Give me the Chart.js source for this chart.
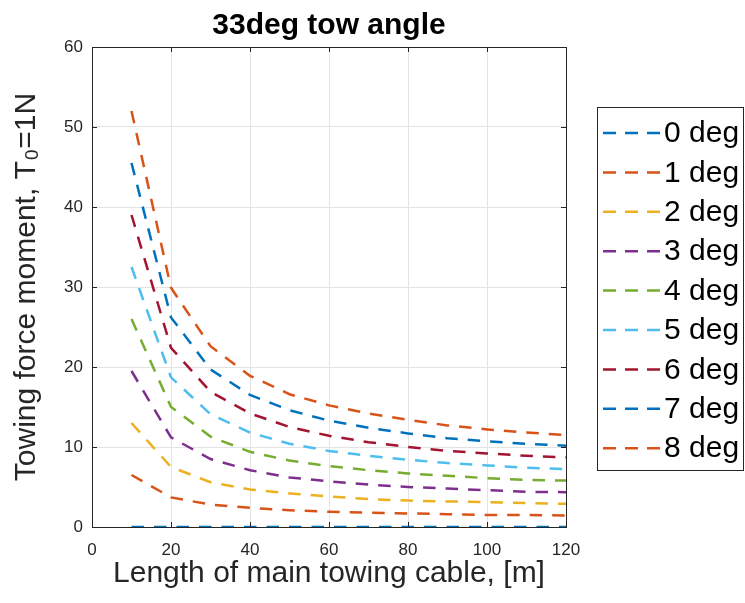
<!DOCTYPE html>
<html lang="en">
<head>
    <meta charset="UTF-8">
    <title>33deg tow angle</title>
    <script src="https://cdn.jsdelivr.net/npm/chart.js@4.4.1/dist/chart.umd.min.js"></script>
    <style>
        body { margin: 0; background: #fff; }
        #towChart { display: block; }
    </style>
</head>
<body>
  <canvas id="towChart" width="745" height="603"></canvas>

  <script>
    // cable length [m]
    var cableLength = [10, 20, 30, 40, 50, 60, 70, 80, 90, 100, 110, 120];

    // towing force moment for each angle, T0 = 1N
    var deg0 = [0, 0, 0, 0, 0, 0, 0, 0, 0, 0, 0, 0];
    var deg1 = [6.5, 3.7, 2.8, 2.4, 2.1, 1.9, 1.8, 1.7, 1.6, 1.5, 1.5, 1.45];
    var deg2 = [13.0, 7.5, 5.6, 4.7, 4.2, 3.8, 3.5, 3.3, 3.2, 3.1, 3.0, 2.9];
    var deg3 = [19.5, 11.2, 8.5, 7.1, 6.2, 5.7, 5.3, 5.0, 4.8, 4.6, 4.4, 4.35];
    var deg4 = [26.0, 15.0, 11.3, 9.4, 8.3, 7.6, 7.1, 6.7, 6.4, 6.1, 5.9, 5.8];
    var deg5 = [32.5, 18.7, 14.1, 11.8, 10.4, 9.5, 8.9, 8.4, 8.0, 7.7, 7.4, 7.25];
    var deg6 = [39.0, 22.4, 16.9, 14.2, 12.5, 11.4, 10.6, 10.0, 9.5, 9.2, 8.9, 8.7];
    var deg7 = [45.5, 26.2, 19.7, 16.5, 14.6, 13.3, 12.4, 11.7, 11.1, 10.7, 10.4, 10.15];
    var deg8 = [52.0, 29.9, 22.6, 18.9, 16.6, 15.2, 14.2, 13.4, 12.7, 12.2, 11.8, 11.5];

    var seriesNames = ["0 deg", "1 deg", "2 deg", "3 deg", "4 deg", "5 deg", "6 deg", "7 deg", "8 deg"];
    var seriesValues = [deg0, deg1, deg2, deg3, deg4, deg5, deg6, deg7, deg8];

    var xTicks = [0, 20, 40, 60, 80, 100, 120];
    var yTicks = [0, 10, 20, 30, 40, 50, 60];

    // matlab default line colours
    var lineColors = ["#0072BD", "#D95319", "#EDB120", "#7E2F8E", "#77AC30", "#4DBEEE", "#A2142F", "#0072BD", "#D95319"];

    var axisGray = "#262626";
    var fontFamily = "'Liberation Sans', Arial, sans-serif";

    function toPoints(values) {
        var pts = [];
        for (var i = 0; i < cableLength.length; i++) {
            pts.push({ x: cableLength[i], y: values[i] });
        }
        return pts;
    }

    var datasets = [];
    for (var s = 0; s < seriesValues.length; s++) {
        datasets.push({
            label: seriesNames[s],
            data: toPoints(seriesValues[s]),
            borderColor: lineColors[s],
            backgroundColor: lineColors[s],
            borderWidth: 2.5,
            borderDash: [12.5, 10],
            pointRadius: 0,
            tension: 0,
            fill: false,
            order: seriesValues.length - s
        });
    }

    // box round the axes plus inward tick marks on all four sides
    var axesBox = {
        id: "axesBox",
        afterDatasetsDraw: function (chart) {
            var ctx = chart.ctx;
            var a = chart.chartArea;
            var xs = chart.scales.x, ys = chart.scales.y;
            ctx.save();
            ctx.strokeStyle = axisGray;
            ctx.lineWidth = 1;
            ctx.strokeRect(Math.round(a.left) + 0.5, Math.round(a.top) + 0.5,
                Math.round(a.right - a.left), Math.round(a.bottom - a.top));
            ctx.beginPath();
            xTicks.forEach(function (t) {
                var px = Math.round(xs.getPixelForValue(t)) + 0.5;
                ctx.moveTo(px, a.bottom); ctx.lineTo(px, a.bottom - 5);
                ctx.moveTo(px, a.top); ctx.lineTo(px, a.top + 5);
            });
            yTicks.forEach(function (t) {
                var py = Math.round(ys.getPixelForValue(t)) + 0.5;
                ctx.moveTo(a.left, py); ctx.lineTo(a.left + 5, py);
                ctx.moveTo(a.right, py); ctx.lineTo(a.right - 5, py);
            });
            ctx.stroke();
            ctx.restore();
        }
    };

    // legend in a framed box right of the axes
    var sideLegend = {
        id: "sideLegend",
        afterDraw: function (chart) {
            var ctx = chart.ctx;
            var boxLeft = 597, boxTop = 107, boxW = 146, boxH = 363;
            var rowTop = 133, rowStep = 39.4;
            ctx.save();
            ctx.fillStyle = "#fff";
            ctx.fillRect(boxLeft, boxTop, boxW, boxH);
            ctx.strokeStyle = axisGray;
            ctx.lineWidth = 1;
            ctx.strokeRect(boxLeft + 0.5, boxTop + 0.5, boxW, boxH);
            ctx.font = "30px " + fontFamily;
            ctx.textBaseline = "middle";
            ctx.textAlign = "left";
            chart.data.datasets.forEach(function (ds, i) {
                var y = rowTop + i * rowStep;
                ctx.beginPath();
                ctx.setLineDash([13, 9]);
                ctx.strokeStyle = ds.borderColor;
                ctx.lineWidth = 2.5;
                ctx.moveTo(603, y);
                ctx.lineTo(660, y);
                ctx.stroke();
                ctx.setLineDash([]);
                ctx.fillStyle = "#000";
                ctx.fillText(ds.label, 664, y + 1);
            });
            ctx.restore();
        }
    };

    var ctx = document.getElementById("towChart").getContext("2d");
    var towChart = new Chart(ctx, {
        type: "line",
        data: { datasets: datasets },
        options: {
            responsive: false,
            animation: false,
            devicePixelRatio: 1,
            layout: { padding: { left: 0, right: 179, top: 0, bottom: 0 } },
            plugins: {
                legend: { display: false },
                tooltip: { enabled: false },
                title: {
                    display: true,
                    text: "33deg tow angle",
                    fullSize: false,
                    color: "#000",
                    font: { family: fontFamily, size: 30, weight: "bold" },
                    padding: { top: 8, bottom: 3 }
                }
            },
            scales: {
                x: {
                    type: "linear",
                    min: 0,
                    max: 120,
                    afterBuildTicks: function (scale) {
                        scale.ticks = xTicks.map(function (v) { return { value: v }; });
                    },
                    afterFit: function (scale) { scale.height = 76; },
                    grid: { color: "#e3e3e3", drawTicks: false },
                    border: { display: false },
                    ticks: {
                        color: axisGray,
                        padding: 13,
                        maxRotation: 0,
                        font: { family: fontFamily, size: 17 }
                    },
                    title: {
                        display: true,
                        text: "Length of main towing cable, [m]",
                        color: axisGray,
                        font: { family: fontFamily, size: 30 },
                        padding: { top: 0, bottom: 11 }
                    }
                },
                y: {
                    type: "linear",
                    min: 0,
                    max: 60,
                    afterBuildTicks: function (scale) {
                        scale.ticks = yTicks.map(function (v) { return { value: v }; });
                    },
                    afterFit: function (scale) { scale.width = 92; },
                    grid: { color: "#e3e3e3", drawTicks: false },
                    border: { display: false },
                    ticks: {
                        color: axisGray,
                        padding: 9,
                        font: { family: fontFamily, size: 17 }
                    },
                    title: {
                        display: true,
                        text: "Towing force moment, T\u2080=1N",
                        color: axisGray,
                        font: { family: fontFamily, size: 30 },
                        padding: { top: 9, bottom: 0 }
                    }
                }
            }
        },
        plugins: [axesBox, sideLegend]
    });
  </script>
</body>
</html>
